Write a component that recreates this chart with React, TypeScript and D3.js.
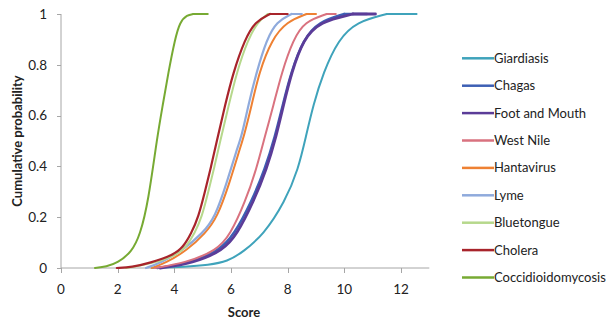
import { useEffect, useRef } from "react";
import * as d3 from "d3";

const giardiasisX = [3.2, 4.4, 5.2, 5.88, 6.43, 7.14, 7.9, 8.38, 8.65, 8.9, 9.26, 9.79, 10.44, 11.5, 12.55];
const giardiasisP = [0, 0.005, 0.012, 0.025, 0.064, 0.13, 0.26, 0.39, 0.52, 0.64, 0.77, 0.9, 0.97, 1, 1];

const chagasX = [3.4, 4.6, 5.6, 6.1, 6.72, 7.2, 7.56, 7.82, 8.12, 8.55, 9.1, 10.0, 10.8];
const chagasP = [0, 0.02, 0.07, 0.13, 0.26, 0.39, 0.52, 0.64, 0.77, 0.9, 0.97, 1, 1];

const footMouthX = [3.5, 4.7, 5.72, 6.2, 6.79, 7.26, 7.6, 7.85, 8.14, 8.55, 9.14, 10.3, 11.1];
const footMouthP = [0, 0.02, 0.07, 0.13, 0.26, 0.39, 0.52, 0.64, 0.77, 0.9, 0.97, 1, 1];

const westNileX = [3.3, 4.4, 5.5, 5.97, 6.5, 6.9, 7.2, 7.5, 7.79, 8.2, 8.6, 9.38, 9.7];
const westNileP = [0, 0.02, 0.07, 0.13, 0.26, 0.39, 0.52, 0.64, 0.77, 0.9, 0.97, 1, 1];

const hantaX = [3.2, 3.7, 4.45, 5.1, 5.52, 5.95, 6.3, 6.46, 6.73, 6.99, 7.44, 7.97, 8.67, 9.0];
const hantaP = [0, 0.02, 0.07, 0.137, 0.2, 0.335, 0.465, 0.52, 0.64, 0.77, 0.9, 0.97, 1, 1];

const lymeX = [3.0, 3.5, 4.3, 5.0, 5.44, 5.85, 6.2, 6.38, 6.61, 6.9, 7.26, 7.61, 8.14, 8.5];
const lymeP = [0, 0.02, 0.07, 0.137, 0.2, 0.335, 0.465, 0.52, 0.64, 0.77, 0.9, 0.97, 1, 1];

const bluetongueX = [2.3, 3.3, 4.05, 4.4, 4.72, 4.97, 5.2, 5.42, 5.62, 5.92, 6.2, 6.6, 6.95, 7.3, 7.6];
const bluetongueP = [0, 0.02, 0.05, 0.08, 0.137, 0.2, 0.3, 0.4, 0.5, 0.64, 0.77, 0.9, 0.97, 1, 1];

const choleraX = [1.97, 2.5, 3.14, 3.95, 4.3, 4.6, 4.85, 5.08, 5.3, 5.5, 5.79, 6.08, 6.49, 6.85, 7.38, 8.0];
const choleraP = [0, 0.003, 0.02, 0.05, 0.08, 0.137, 0.2, 0.3, 0.4, 0.5, 0.64, 0.77, 0.9, 0.97, 1, 1];

const coccX = [1.2, 1.6, 2.0, 2.5, 2.79, 3.08, 3.4, 3.59, 3.79, 4.02, 4.2, 4.45, 4.67, 5.18];
const coccP = [0, 0.005, 0.02, 0.064, 0.13, 0.26, 0.52, 0.64, 0.77, 0.9, 0.97, 0.996, 1, 1];

const seriesNames = [
  "Giardiasis",
  "Chagas",
  "Foot and Mouth",
  "West Nile",
  "Hantavirus",
  "Lyme",
  "Bluetongue",
  "Cholera",
  "Coccidioidomycosis",
];
const seriesX = [giardiasisX, chagasX, footMouthX, westNileX, hantaX, lymeX, bluetongueX, choleraX, coccX];
const seriesP = [giardiasisP, chagasP, footMouthP, westNileP, hantaP, lymeP, bluetongueP, choleraP, coccP];
const seriesColors = [
  "#3fa3bb",
  "#3d5fb4",
  "#5b3c98",
  "#d9727f",
  "#ee8133",
  "#8faadc",
  "#b6d88c",
  "#a8242b",
  "#77aa33",
];
const seriesWidths = [2, 2.4, 2.8, 2, 2, 2.2, 2, 2.2, 2];

const xTicks = [0, 2, 4, 6, 8, 10, 12];
const yTicks = [0, 0.2, 0.4, 0.6, 0.8, 1];

const W = 613;
const H = 322;
const FONT = "Lato, 'Open Sans', sans-serif";

export default function App() {
  const svgRef = useRef<SVGSVGElement>(null);

  useEffect(() => {
    if (!svgRef.current) return;
    const svg = d3.select(svgRef.current);
    svg.selectAll("*").remove();

    const x = d3.scaleLinear().domain([0, 13]).range([61, 429.3]);
    const y = d3.scaleLinear().domain([0, 1]).range([268, 14]);
    const axisColor = "#a6a6a6";

    // axes
    svg
      .append("line")
      .attr("x1", x(0))
      .attr("x2", x(0))
      .attr("y1", y(1))
      .attr("y2", y(0))
      .attr("stroke", axisColor);
    svg
      .append("line")
      .attr("x1", x(0))
      .attr("x2", x(13))
      .attr("y1", y(0))
      .attr("y2", y(0))
      .attr("stroke", axisColor);

    svg
      .selectAll("line.yt")
      .data(yTicks)
      .join("line")
      .attr("class", "yt")
      .attr("x1", x(0) - 4)
      .attr("x2", x(0))
      .attr("y1", (d) => Math.round(y(d)) + 0.5)
      .attr("y2", (d) => Math.round(y(d)) + 0.5)
      .attr("stroke", axisColor);
    svg
      .selectAll("line.xt")
      .data(xTicks)
      .join("line")
      .attr("class", "xt")
      .attr("x1", (d) => Math.round(x(d)) + 0.5)
      .attr("x2", (d) => Math.round(x(d)) + 0.5)
      .attr("y1", y(0))
      .attr("y2", y(0) + 5)
      .attr("stroke", axisColor);

    svg
      .selectAll("text.yl")
      .data(yTicks)
      .join("text")
      .attr("class", "yl")
      .attr("x", 47)
      .attr("y", (d) => y(d))
      .attr("dy", "0.35em")
      .attr("text-anchor", "end")
      .attr("font-family", FONT)
      .attr("font-size", 13.5)
      .attr("fill", "#222")
      .text((d) => String(d));
    svg
      .selectAll("text.xl")
      .data(xTicks)
      .join("text")
      .attr("class", "xl")
      .attr("x", (d) => x(d))
      .attr("y", 289)
      .attr("dy", "0.35em")
      .attr("text-anchor", "middle")
      .attr("font-family", FONT)
      .attr("font-size", 13.5)
      .attr("fill", "#222")
      .text((d) => String(d));

    svg
      .append("text")
      .attr("transform", `translate(17,141) rotate(-90)`)
      .attr("dy", "0.35em")
      .attr("text-anchor", "middle")
      .attr("font-family", FONT)
      .attr("font-size", 13)
      .attr("font-weight", "bold")
      .attr("fill", "#222")
      .text("Cumulative probability");
    svg
      .append("text")
      .attr("x", 244)
      .attr("y", 312)
      .attr("dy", "0.35em")
      .attr("text-anchor", "middle")
      .attr("font-family", FONT)
      .attr("font-size", 13)
      .attr("font-weight", "bold")
      .attr("fill", "#222")
      .text("Score");

    // curves: rising part smoothed, flat tail at p = 1 drawn straight
    const rise = d3
      .line<[number, number]>()
      .x((d) => x(d[0]))
      .y((d) => y(d[1]))
      .curve(d3.curveBasis);
    const tail = d3
      .line<[number, number]>()
      .x((d) => x(d[0]))
      .y((d) => y(d[1]));

    seriesNames.forEach((name, i) => {
      const pts = seriesX[i].map((v, j) => [v, seriesP[i][j]] as [number, number]);
      const top = seriesP[i].indexOf(1);
      const g = svg.append("g");
      [rise(pts.slice(0, top + 1)), tail(pts.slice(top))].forEach((d) =>
        g
          .append("path")
          .attr("d", d)
          .attr("fill", "none")
          .attr("stroke", seriesColors[i])
          .attr("stroke-width", seriesWidths[i])
          .attr("stroke-linejoin", "round")
          .attr("stroke-linecap", "round"),
      );
    });

    // legend
    const leg = svg.append("g");
    seriesNames.forEach((name, i) => {
      const ly = 58.3 + i * 27.4;
      leg
        .append("line")
        .attr("x1", 462)
        .attr("x2", 494)
        .attr("y1", ly)
        .attr("y2", ly)
        .attr("stroke", seriesColors[i])
        .attr("stroke-width", 2.5);
      leg
        .append("text")
        .attr("x", 494)
        .attr("y", ly)
        .attr("dy", "0.35em")
        .attr("font-family", FONT)
        .attr("font-size", 13)
        .attr("fill", "#222")
        .text(name);
    });
  }, []);

  return (
    <svg
      ref={svgRef}
      width={W}
      height={H}
      style={{ position: "absolute", left: 0, top: 0, background: "#fff" }}
    />
  );
}
